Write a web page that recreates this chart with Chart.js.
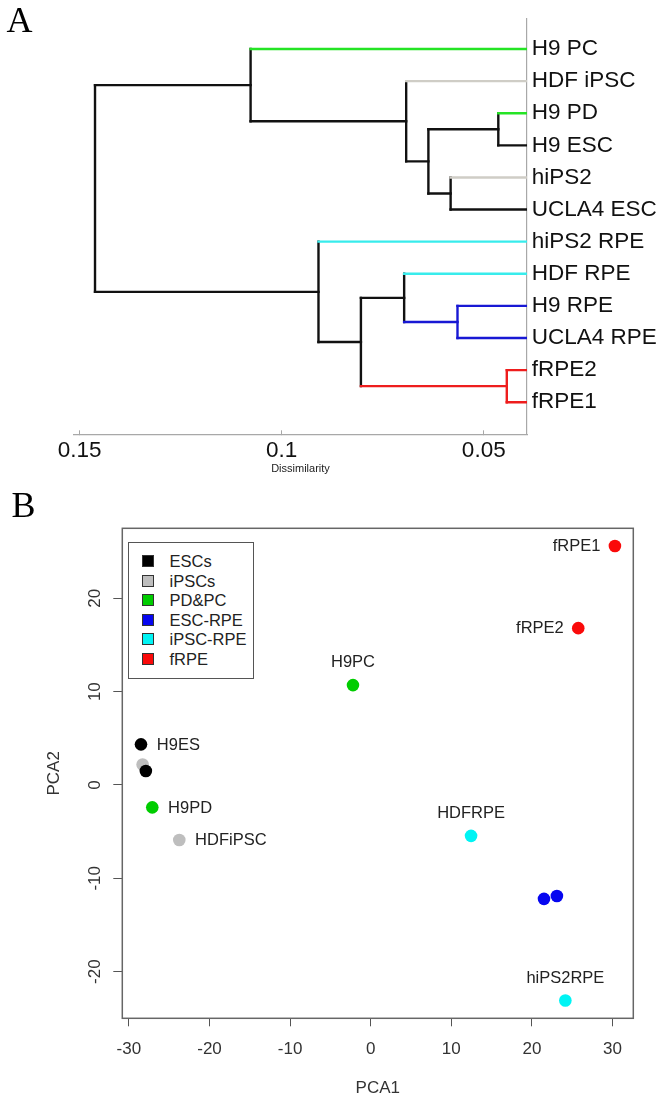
<!DOCTYPE html>
<html>
<head>
<meta charset="utf-8">
<script src="https://cdn.jsdelivr.net/npm/chart.js@4/dist/chart.umd.min.js"></script>
<style>
html,body{margin:0;padding:0;background:#fff;}
body{width:664px;height:1101px;position:relative;overflow:hidden;font-family:"Liberation Sans",Arial,sans-serif;}
.panel{position:absolute;left:0;width:664px;}
.panel canvas{display:block;}
#wa{top:0;height:480px;}
#wb{top:480px;height:621px;}
.tag{position:absolute;font-family:"Liberation Serif","Times New Roman",serif;font-size:36px;line-height:1;color:#000;z-index:2;}
#legend{position:absolute;left:128.3px;top:542.3px;width:126px;height:137px;border:1.5px solid #555;box-sizing:border-box;background:#fff;z-index:2;}
#legend .row{position:absolute;left:0;height:20px;width:120px;}
#legend .sq{position:absolute;left:12.9px;top:4px;width:12px;height:12px;box-sizing:border-box;border:1px solid #333;}
#legend .tx{position:absolute;left:40.2px;top:0;line-height:20px;font-size:16.5px;color:#222;white-space:nowrap;}
</style>
</head>
<body>
<div class="tag" style="left:6.5px;top:2px">A</div>
<div class="panel" id="wa"><canvas id="ca" width="664" height="480"></canvas></div>
<div class="tag" style="left:11.5px;top:487px">B</div>
<div class="panel" id="wb"><canvas id="cb" width="664" height="621"></canvas></div>
<div id="legend"></div>
<script>
// ---------------- Panel A: dendrogram data ----------------
const leafLabels = ['H9 PC','HDF iPSC','H9 PD','H9 ESC','hiPS2','UCLA4 ESC','hiPS2 RPE','HDF RPE','H9 RPE','UCLA4 RPE','fRPE2','fRPE1'];
const leafGroups = ['PD&PC','iPSCs','PD&PC','ESCs','iPSCs','ESCs','iPSC-RPE','iPSC-RPE','ESC-RPE','ESC-RPE','fRPE','fRPE'];
// merges: nodes 0..11 are leaves, node 12+k is merge k
const mergeLeft   = [2, 4, 12, 1, 0, 8, 10, 7, 19, 6, 16];
const mergeRight  = [3, 5, 13, 14, 15, 9, 11, 17, 18, 20, 21];
const mergeHeight = [0.0464, 0.0582, 0.0637, 0.0692, 0.1077, 0.0565, 0.0443, 0.0697, 0.0804, 0.0909, 0.1462];
const mergeGroups = ['', '', '', '', '', 'ESC-RPE', 'fRPE', '', '', '', ''];
const dissimTicks = [0.05, 0.1, 0.15];

// ---------------- Panel B: PCA data ----------------
const pcaGroups = ['ESCs','iPSCs','PD&PC','ESC-RPE','iPSC-RPE','fRPE'];
const pcaNames  = [['H9ES','UCLA4ES'],['hiPS2','HDFiPSC'],['H9PD','H9PC'],['H9RPE','UCLA4RPE'],['HDFRPE','hiPS2RPE'],['fRPE1','fRPE2']];
const pca1 = [[-28.5,-27.9],[-28.3,-23.75],[-27.1,-2.2],[21.5,23.1],[12.45,24.15],[30.3,25.75]];
const pca2 = [[4.35,1.5],[2.2,-5.9],[-2.4,10.7],[-12.2,-11.9],[-5.45,-23.1],[25.6,16.8]];
const pcaLabelled = ['H9ES','HDFiPSC','H9PD','H9PC','HDFRPE','hiPS2RPE','fRPE1','fRPE2'];
const pca1Ticks = [-30,-20,-10,0,10,20,30];
const pca2Ticks = [-20,-10,0,10,20];

// ---------------- styles ----------------
const FONT = "'Liberation Sans', Arial, Helvetica, sans-serif";
Chart.defaults.font.family = FONT;
const palA = {'':'#111111','ESCs':'#111111','iPSCs':'#cfcdc6','PD&PC':'#25e425','ESC-RPE':'#1818d4','iPSC-RPE':'#38ecec','fRPE':'#ee1d1d'};
const palB = {'ESCs':'#000000','iPSCs':'#bebebe','PD&PC':'#00cd00','ESC-RPE':'#0606f0','iPSC-RPE':'#00f4f4','fRPE':'#fa0a0a'};
const labelSide = {H9ES:'right',HDFiPSC:'right',H9PD:'right',H9PC:'top',HDFRPE:'top',hiPS2RPE:'top',fRPE1:'left',fRPE2:'left'};

// ---------------- build panel A ----------------
const nLeaf = leafLabels.length;
const nodeY = leafLabels.map((_, i) => i);
const nodeH = leafLabels.map(() => 0);
const nodeCol = leafGroups.map(g => palA[g]);
mergeHeight.forEach((h, k) => {
  nodeY.push((nodeY[mergeLeft[k]] + nodeY[mergeRight[k]]) / 2);
  nodeH.push(h);
  nodeCol.push(palA[mergeGroups[k]]);
});
function seg(pts, col) {
  return {data: pts, showLine: true, borderColor: col, backgroundColor: col, borderWidth: 2.4,
          borderCapStyle: 'square', pointRadius: 0, pointHoverRadius: 0, clip: 0, tension: 0};
}
const dsA = [];
mergeHeight.forEach((h, k) => {
  const n = nLeaf + k;
  [mergeLeft[k], mergeRight[k]].forEach(cn => {
    dsA.push(seg([{x: nodeH[cn], y: nodeY[cn]}, {x: h, y: nodeY[cn]}], nodeCol[cn]));
  });
  dsA.push(seg([{x: h, y: nodeY[mergeLeft[k]]}, {x: h, y: nodeY[mergeRight[k]]}], nodeCol[n]));
});
// coloured links drawn on top
dsA.sort((a, b) => (a.borderColor === '#111111') - (b.borderColor === '#111111'));

new Chart(document.getElementById('ca'), {
  type: 'scatter',
  data: {datasets: dsA},
  options: {
    responsive: false, animation: false, events: [],
    layout: {padding: {left: 74, top: 8.3, right: 0, bottom: 0}},
    plugins: {legend: {display: false}, tooltip: {enabled: false}},
    scales: {
      x: {
        type: 'linear', position: 'bottom', reverse: true, min: 0.0393, max: 0.1514,
        afterBuildTicks: s => { s.ticks = dissimTicks.map(v => ({value: v})); },
        afterFit: s => { s.height = 45.7; },
        grid: {display: true, drawOnChartArea: false, drawTicks: true, tickLength: -4, color: '#a8a8a8', lineWidth: 1},
        border: {display: true, color: '#a8a8a8', width: 1.2},
        ticks: {padding: 7, font: {size: 22.5}, color: '#111', maxRotation: 0, autoSkip: false, callback: v => String(v)},
        title: {display: true, text: 'Dissimilarity', font: {size: 11}, color: '#222', padding: {top: 0, bottom: 4.4}}
      },
      y: {
        type: 'linear', position: 'right', reverse: true, min: -0.96, max: 12,
        afterBuildTicks: s => { s.ticks = leafLabels.map((_, i) => ({value: i})); },
        afterFit: s => { s.width = 137; },
        grid: {display: false, drawTicks: false},
        border: {display: true, color: '#a8a8a8', width: 1.2},
        ticks: {padding: 4.7, font: {size: 22.5}, color: '#111', autoSkip: false, callback: v => leafLabels[v]}
      }
    }
  }
});

// ---------------- build panel B ----------------
const dsB = pcaGroups.map((g, i) => ({
  label: g,
  names: pcaNames[i],
  data: pca1[i].map((x, j) => ({x: x, y: pca2[i][j]})),
  pointRadius: 6.3, pointHoverRadius: 6.3, pointBorderWidth: 0,
  pointBackgroundColor: palB[g], backgroundColor: palB[g], borderColor: palB[g], showLine: false
}));

const frameB = {
  id: 'frameB',
  beforeDatasetsDraw(c) {
    const a = c.chartArea, x = c.ctx;
    x.save(); x.strokeStyle = '#666'; x.lineWidth = 1.5;
    x.strokeRect(a.left, a.top, a.right - a.left, a.bottom - a.top);
    x.restore();
  }
};
const yLabelsB = {
  id: 'yLabelsB',
  afterDraw(c) {
    const s = c.scales.y, x = c.ctx;
    x.save(); x.font = '17px ' + FONT; x.fillStyle = '#333'; x.textAlign = 'center'; x.textBaseline = 'middle';
    pca2Ticks.forEach(v => {
      const py = s.getPixelForValue(v);
      x.save(); x.translate(s.right - 27.3, py); x.rotate(-Math.PI / 2); x.fillText(String(v), 0, 0); x.restore();
    });
    x.restore();
  }
};
const pointLabelsB = {
  id: 'pointLabelsB',
  afterDatasetsDraw(c) {
    const x = c.ctx;
    x.save(); x.font = '16.5px ' + FONT; x.fillStyle = '#222';
    c.data.datasets.forEach((ds, i) => {
      const meta = c.getDatasetMeta(i);
      ds.names.forEach((n, j) => {
        if (!pcaLabelled.includes(n)) return;
        const el = meta.data[j];
        const side = labelSide[n];
        if (side === 'top') { x.textAlign = 'center'; x.textBaseline = 'middle'; x.fillText(n, el.x, el.y - 22.3); }
        else if (side === 'left') { x.textAlign = 'right'; x.textBaseline = 'middle'; x.fillText(n, el.x - 14.5, el.y + 0.5); }
        else { x.textAlign = 'left'; x.textBaseline = 'middle'; x.fillText(n, el.x + 15.8, el.y + 0.8); }
      });
    });
    x.restore();
  }
};

new Chart(document.getElementById('cb'), {
  type: 'scatter',
  data: {datasets: dsB},
  options: {
    responsive: false, animation: false, events: [],
    layout: {padding: {left: 0, top: 48.3, right: 30.7, bottom: 0}},
    plugins: {legend: {display: false}, tooltip: {enabled: false}},
    scales: {
      x: {
        type: 'linear', position: 'bottom', min: -30.82, max: 32.58,
        afterBuildTicks: s => { s.ticks = pca1Ticks.map(v => ({value: v})); },
        afterFit: s => { s.height = 82.7; },
        grid: {display: true, drawOnChartArea: false, drawTicks: true, tickLength: 8, color: '#555', lineWidth: 1},
        border: {display: false},
        ticks: {padding: 12.8, font: {size: 17}, color: '#333', maxRotation: 0, autoSkip: false, callback: v => String(v)},
        title: {display: true, text: 'PCA1', font: {size: 17}, color: '#333', padding: {top: 0, bottom: 2.5}}
      },
      y: {
        type: 'linear', position: 'left', min: -25.0, max: 27.5,
        afterBuildTicks: s => { s.ticks = pca2Ticks.map(v => ({value: v})); },
        afterFit: s => { s.width = 122.3; },
        grid: {display: true, drawOnChartArea: false, drawTicks: true, tickLength: 9, color: '#555', lineWidth: 1},
        border: {display: false},
        ticks: {display: false},
        title: {display: true, text: 'PCA2', font: {size: 17}, color: '#333', padding: {top: 43.8, bottom: 0}}
      }
    }
  },
  plugins: [frameB, yLabelsB, pointLabelsB]
});

// ---------------- legend (built from the group arrays) ----------------
const lg = document.getElementById('legend');
pcaGroups.forEach((g, i) => {
  const row = document.createElement('div');
  row.className = 'row';
  row.style.top = (17.9 + 19.5 * i - 10) + 'px';
  const sq = document.createElement('span'); sq.className = 'sq'; sq.style.background = palB[g];
  const tx = document.createElement('span'); tx.className = 'tx'; tx.textContent = g;
  row.appendChild(sq); row.appendChild(tx); lg.appendChild(row);
});
</script>
</body>
</html>
